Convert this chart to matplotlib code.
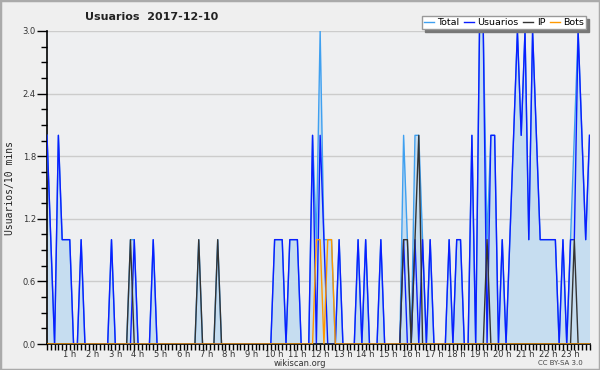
import numpy as np
import matplotlib
matplotlib.use("Agg")
import matplotlib.pyplot as plt
from matplotlib.patches import Rectangle

# 10-minute buckets, one row per hour (6 values each), 2017-12-10
total = [
    2, 1, 0, 2, 1, 1,
    1, 0, 0, 1, 0, 0,
    0, 0, 0, 0, 0, 1,
    0, 0, 0, 0, 1, 1,
    0, 0, 0, 0, 1, 0,
    0, 0, 0, 0, 0, 0,
    0, 0, 0, 0, 1, 0,
    0, 0, 0, 1, 0, 0,
    0, 0, 0, 0, 0, 0,
    0, 0, 0, 0, 0, 0,
    1, 1, 1, 0, 1, 1,
    1, 0, 0, 0, 2, 1,
    3, 1, 1, 1, 0, 1,
    0, 0, 0, 0, 1, 0,
    1, 0, 0, 0, 1, 0,
    0, 0, 0, 0, 2, 1,
    0, 2, 2, 1, 0, 1,
    0, 0, 0, 0, 1, 0,
    1, 1, 0, 0, 2, 0,
    3, 3, 1, 2, 2, 0,
    1, 0, 1, 2, 3, 2,
    3, 1, 3, 2, 1, 1,
    1, 1, 1, 0, 1, 0,
    1, 2, 3, 2, 1, 2,
]
usuarios = [
    2, 1, 0, 2, 1, 1,
    1, 0, 0, 1, 0, 0,
    0, 0, 0, 0, 0, 1,
    0, 0, 0, 0, 0, 1,
    0, 0, 0, 0, 1, 0,
    0, 0, 0, 0, 0, 0,
    0, 0, 0, 0, 0, 0,
    0, 0, 0, 0, 0, 0,
    0, 0, 0, 0, 0, 0,
    0, 0, 0, 0, 0, 0,
    1, 1, 1, 0, 1, 1,
    1, 0, 0, 0, 2, 0,
    2, 1, 0, 0, 0, 1,
    0, 0, 0, 0, 1, 0,
    1, 0, 0, 0, 1, 0,
    0, 0, 0, 0, 1, 0,
    0, 1, 0, 1, 0, 1,
    0, 0, 0, 0, 1, 0,
    1, 1, 0, 0, 2, 0,
    3, 3, 0, 2, 2, 0,
    1, 0, 1, 2, 3, 2,
    3, 1, 3, 2, 1, 1,
    1, 1, 1, 0, 1, 0,
    1, 1, 3, 2, 1, 2,
]
ip = [
    0, 0, 0, 0, 0, 0,
    0, 0, 0, 0, 0, 0,
    0, 0, 0, 0, 0, 0,
    0, 0, 0, 0, 1, 0,
    0, 0, 0, 0, 0, 0,
    0, 0, 0, 0, 0, 0,
    0, 0, 0, 0, 1, 0,
    0, 0, 0, 1, 0, 0,
    0, 0, 0, 0, 0, 0,
    0, 0, 0, 0, 0, 0,
    0, 0, 0, 0, 0, 0,
    0, 0, 0, 0, 0, 0,
    0, 0, 0, 0, 0, 0,
    0, 0, 0, 0, 0, 0,
    0, 0, 0, 0, 0, 0,
    0, 0, 0, 0, 1, 1,
    0, 1, 2, 0, 0, 0,
    0, 0, 0, 0, 0, 0,
    0, 0, 0, 0, 0, 0,
    0, 0, 1, 0, 0, 0,
    0, 0, 0, 0, 0, 0,
    0, 0, 0, 0, 0, 0,
    0, 0, 0, 0, 0, 0,
    0, 1, 0, 0, 0, 0,
]
bots = [0] * 144
bots[71] = 1
bots[72] = 1
bots[74] = 1
bots[75] = 1

hour_labels = [f"{h} h" for h in range(1, 24)]

x = np.arange(len(total)) / 6.0  # hours

fig = plt.figure(figsize=(6.0, 3.7), dpi=100, facecolor="#efefef")
ax = fig.add_axes([47 / 600, 1 - 344 / 370, (589.5 - 47) / 600, (344 - 31) / 370])
ax.set_facecolor("#eeeff1")

ax.fill_between(x, total, 0, color="#c6ddf0", lw=0, zorder=1)
ax.plot(x, total, color="#3fa0f0", lw=1.0, label="Total", zorder=3)
ax.plot(x, usuarios, color="#0a1eff", lw=1.0, label="Usuarios", zorder=4)
ax.plot(x, ip, color="#333333", lw=1.0, label="IP", zorder=5)
ax.plot(x, bots, color="#ff9900", lw=1.0, label="Bots", zorder=6)

ax.set_xlim(0, x[-1])
ax.set_ylim(0, 3.0)

ax.set_yticks(np.arange(0, 3.01, 0.6))
ax.set_yticklabels([f"{v:.1f}" for v in np.arange(0, 3.01, 0.6)])
ax.set_yticks(np.arange(0, 3.01, 0.15), minor=True)
ax.set_xticks(np.arange(1, 24))
ax.set_xticklabels(hour_labels)
ax.set_xticks(np.arange(0, x[-1] + 0.01, 1 / 6), minor=True)

ax.tick_params(axis="both", which="both", direction="out", color="black",
               labelsize=6, labelcolor="#333333", width=1)
ax.tick_params(axis="y", which="major", length=7, pad=1)
ax.tick_params(axis="y", which="minor", length=4)
ax.tick_params(axis="x", which="both", length=4, pad=0)

ax.grid(axis="y", which="major", color="#cccccc", lw=1, zorder=0)
ax.set_axisbelow(True)
for s in ["top", "right"]:
    ax.spines[s].set_visible(False)
for s in ["left", "bottom"]:
    ax.spines[s].set_color("black")
    ax.spines[s].set_linewidth(1.2)

fig.text(10 / 600, 1 - 188 / 370, "Usuarios/10 mins", family="DejaVu Sans Mono",
         fontsize=7, color="#222222", rotation=90, ha="center", va="center")

fig.text(85 / 600, 1 - 17 / 370, "Usuarios  2017-12-10", fontsize=8,
         fontweight="bold", color="#222222", va="center", ha="left")

leg = ax.legend(loc="upper right", bbox_to_anchor=(586 / 600, 1 - 16 / 370),
                bbox_transform=fig.transFigure, ncol=4, fontsize=6.8,
                handlelength=1.1, handletextpad=0.35, columnspacing=0.45,
                borderpad=0.2, borderaxespad=0, fancybox=False, framealpha=1,
                edgecolor="#999999", shadow={"color": "#777777", "alpha": 1})
leg.get_frame().set_linewidth(1)
leg.set_zorder(10)

fig.text(0.5, 1 - 363.5 / 370, "wikiscan.org", fontsize=6, color="#333333",
         ha="center", va="center")
fig.text(583 / 600, 1 - 363 / 370, "CC BY-SA 3.0", fontsize=5, color="#444444",
         ha="right", va="center")

fig.patches.append(Rectangle((0, 0), 1, 1, transform=fig.transFigure, fill=False,
                             edgecolor="#aaaaaa", lw=2.5))

fig.savefig("out.png", dpi=100, facecolor=fig.get_facecolor())
